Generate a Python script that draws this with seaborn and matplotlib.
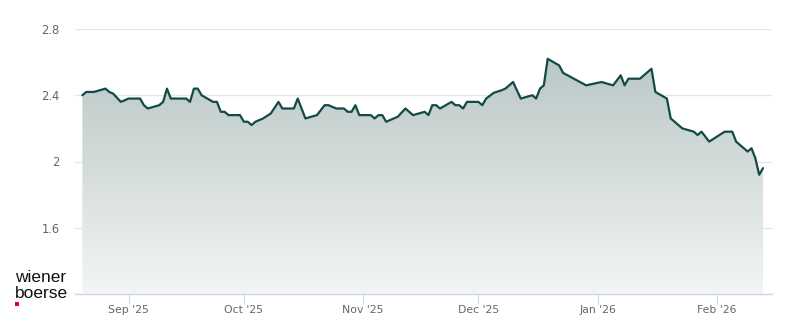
import numpy as np
import pandas as pd
import matplotlib
matplotlib.use("Agg")
import matplotlib.pyplot as plt
import matplotlib.dates as mdates
from matplotlib.colors import LinearSegmentedColormap
import seaborn as sns

# ---- data ----
dates = [
    "2025-08-20", "2025-08-21", "2025-08-23", "2025-08-26", "2025-08-27", "2025-08-28", "2025-08-30",
    "2025-09-01", "2025-09-04", "2025-09-05", "2025-09-06", "2025-09-09", "2025-09-10", "2025-09-11",
    "2025-09-12", "2025-09-16", "2025-09-17", "2025-09-18", "2025-09-19", "2025-09-20", "2025-09-23",
    "2025-09-24", "2025-09-25", "2025-09-26", "2025-09-27", "2025-09-30",
    "2025-10-01", "2025-10-02", "2025-10-03", "2025-10-04", "2025-10-06", "2025-10-08", "2025-10-10",
    "2025-10-11", "2025-10-14", "2025-10-15", "2025-10-17", "2025-10-20", "2025-10-22", "2025-10-23",
    "2025-10-25", "2025-10-27", "2025-10-28", "2025-10-29", "2025-10-30", "2025-10-31",
    "2025-11-03", "2025-11-04", "2025-11-05", "2025-11-06", "2025-11-07", "2025-11-10", "2025-11-12",
    "2025-11-14", "2025-11-17", "2025-11-18", "2025-11-19", "2025-11-20", "2025-11-21", "2025-11-24",
    "2025-11-25", "2025-11-26", "2025-11-27", "2025-11-28",
    "2025-12-01", "2025-12-02", "2025-12-03", "2025-12-05", "2025-12-07", "2025-12-08", "2025-12-10",
    "2025-12-12", "2025-12-15", "2025-12-16", "2025-12-17", "2025-12-18", "2025-12-19", "2025-12-22",
    "2025-12-23", "2025-12-29",
    "2026-01-02", "2026-01-05", "2026-01-07", "2026-01-08", "2026-01-09", "2026-01-12", "2026-01-15",
    "2026-01-16", "2026-01-19", "2026-01-20", "2026-01-23", "2026-01-26", "2026-01-27", "2026-01-28",
    "2026-01-30",
    "2026-02-03", "2026-02-05", "2026-02-06", "2026-02-09", "2026-02-10", "2026-02-11", "2026-02-12",
    "2026-02-13",
]
prices = [
    2.40, 2.42, 2.42, 2.44, 2.42, 2.41, 2.36,
    2.38, 2.38, 2.34, 2.32, 2.34, 2.36, 2.44,
    2.38, 2.38, 2.36, 2.44, 2.44, 2.40, 2.36,
    2.36, 2.30, 2.30, 2.28, 2.28,
    2.24, 2.24, 2.22, 2.24, 2.26, 2.29, 2.36,
    2.32, 2.32, 2.38, 2.26, 2.28, 2.34, 2.34,
    2.32, 2.32, 2.30, 2.30, 2.34, 2.28,
    2.28, 2.26, 2.28, 2.28, 2.24, 2.27, 2.32,
    2.28, 2.30, 2.28, 2.34, 2.34, 2.32, 2.36,
    2.34, 2.34, 2.32, 2.36,
    2.36, 2.34, 2.38, 2.415, 2.43, 2.44, 2.48,
    2.38, 2.40, 2.38, 2.44, 2.46, 2.62, 2.58,
    2.535, 2.46,
    2.48, 2.46, 2.52, 2.46, 2.50, 2.50, 2.56,
    2.42, 2.38, 2.26, 2.20, 2.18, 2.16, 2.18,
    2.12,
    2.18, 2.18, 2.12, 2.06, 2.08, 2.02, 1.92,
    1.96,
]
y_ticks = [1.6, 2.0, 2.4, 2.8]
month_ticks = ["2025-09-01", "2025-10-01", "2025-11-01", "2025-12-01", "2026-01-01", "2026-02-01"]

df = pd.DataFrame({"date": pd.to_datetime(dates), "price": prices})

LINE = "#124b46"
GRID = "#e6e6e6"
AXIS = "#ccd6eb"
LABEL = "#666666"

sns.set_theme(style="white")
plt.rcParams["font.family"] = ["DejaVu Sans"]

fig = plt.figure(figsize=(8.0, 3.24), dpi=100)
ax = fig.add_axes([75 / 800, 1 - 294 / 324, (772 - 75) / 800, (294 - 29) / 324])

x0 = pd.Timestamp("2025-08-18 02:00")
x1 = pd.Timestamp("2026-02-15 08:00")
ymin, ymax = 1.2, 2.8
ax.set_xlim(x0, x1)
ax.set_ylim(ymin, ymax)

# gridlines
for v in y_ticks:
    ax.axhline(v, color=GRID, lw=1.0, zorder=0)

# gradient area fill
poly = ax.fill_between(df["date"], df["price"], ymin, color="none", lw=0, zorder=1)
cmap = LinearSegmentedColormap.from_list("g", ["#f3f5f5", "#b3c2c0"])
grad = np.linspace(0, 1, 256).reshape(-1, 1)
im = ax.imshow(grad, cmap=cmap, origin="lower", aspect="auto",
               extent=[mdates.date2num(x0), mdates.date2num(x1), ymin, ymax], zorder=1)
im.set_clip_path(poly.get_paths()[0], transform=ax.transData)

# line
sns.lineplot(data=df, x="date", y="price", ax=ax, color=LINE, lw=1.6, zorder=3)

ax.set_xlim(x0, x1)
ax.set_ylim(ymin, ymax)

# axes styling
for s in ["left", "right", "top"]:
    ax.spines[s].set_visible(False)
ax.spines["bottom"].set_color(AXIS)
ax.spines["bottom"].set_linewidth(1.0)
ax.set_xlabel("")
ax.set_ylabel("")

ax.set_yticks(y_ticks)
ax.set_yticklabels([f"{v:g}" for v in y_ticks])
ax.tick_params(axis="y", length=0, pad=11, labelsize=8.3, labelcolor=LABEL)

ax.set_xticks(pd.to_datetime(month_ticks))
ax.xaxis.set_major_formatter(mdates.DateFormatter("%b '%y"))
ax.tick_params(axis="x", length=7.2, width=0.8, color=AXIS, direction="out",
               pad=0.8, labelsize=7.8, labelcolor=LABEL, bottom=True)

# logo
fig.text(15 / 800, 1 - 282 / 324, "wiener", fontsize=12.5, color="#111111",
         family=["Liberation Sans", "DejaVu Sans"], ha="left", va="baseline")
fig.text(15 / 800, 1 - 297.5 / 324, "boerse", fontsize=12.5, color="#111111",
         family=["Liberation Sans", "DejaVu Sans"], ha="left", va="baseline")
fig.patches.append(plt.Rectangle((15.3 / 800, 1 - 305.5 / 324), 4 / 800, 4 / 324,
                                 transform=fig.transFigure, color="#e2001a", lw=0))

fig.savefig("out.png", dpi=100, facecolor="white")
